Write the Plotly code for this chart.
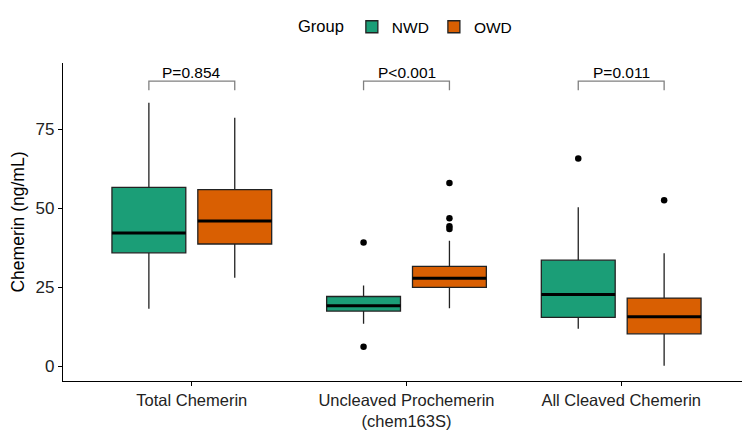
import plotly.graph_objects as go

# categorias e grupos
cats = ["Total Chemerin", "Uncleaved Prochemerin<br>(chem163S)", "All Cleaved Chemerin"]
grupos = ["NWD", "OWD"]
cores = {"NWD": "#1B9E77", "OWD": "#D95F02"}

# estatisticas (ng/mL)
q1 = {"NWD": [35.9, 17.5, 15.5], "OWD": [38.7, 25.0, 10.3]}
mediana = {"NWD": [42.2, 19.2, 22.7], "OWD": [46.0, 27.9, 15.7]}
q3 = {"NWD": [56.6, 22.1, 33.6], "OWD": [55.9, 31.6, 21.6]}
lim_inf = {"NWD": [18.2, 13.5, 11.9], "OWD": [28.0, 18.4, 0.2]}
lim_sup = {"NWD": [83.3, 25.6, 50.3], "OWD": [78.6, 39.7, 35.8]}
outliers = {
    "NWD": [[], [39.2, 6.2], [65.7]],
    "OWD": [[], [58.0, 46.8, 44.3, 43.4], [52.5]],
}
pvals = ["P=0.854", "P<0.001", "P=0.011"]
y_barra = 90.2
y_perna = 87.3

desloc = {"NWD": -0.2, "OWD": 0.2}
larg = 0.344

fig = go.Figure()
for g in grupos:
    xs = [i + desloc[g] for i in range(len(cats))]
    fig.add_trace(go.Box(
        x=xs, q1=q1[g], median=mediana[g], q3=q3[g],
        lowerfence=lim_inf[g], upperfence=lim_sup[g],
        width=larg, whiskerwidth=0, boxpoints=False,
        fillcolor=cores[g], line=dict(color="#222222", width=1.3),
        name=g, hoverinfo="skip",
    ))
    # mediana mais grossa (estilo ggplot)
    mx, my = [], []
    for x, m in zip(xs, mediana[g]):
        mx += [x - larg / 2, x + larg / 2, None]
        my += [m, m, None]
    fig.add_trace(go.Scatter(x=mx, y=my, mode="lines", line=dict(color="black", width=3),
                             showlegend=False, hoverinfo="skip"))
    ox, oy = [], []
    for x, vals in zip(xs, outliers[g]):
        ox += [x] * len(vals)
        oy += vals
    fig.add_trace(go.Scatter(x=ox, y=oy, mode="markers", marker=dict(color="black", size=6.5),
                             showlegend=False, hoverinfo="skip"))

# barras de significancia
for i, p in enumerate(pvals):
    x0, x1 = i + desloc["NWD"], i + desloc["OWD"]
    fig.add_trace(go.Scatter(x=[x0, x0, x1, x1], y=[y_perna, y_barra, y_barra, y_perna],
                             mode="lines", line=dict(color="#808080", width=1.3),
                             showlegend=False, hoverinfo="skip"))
    fig.add_annotation(x=i, y=y_barra, text=p, showarrow=False, yanchor="bottom", yshift=-2,
                       font=dict(size=15.5, color="black"))

fig.update_layout(
    width=750, height=430,
    margin=dict(l=55, r=8, t=55, b=49),
    plot_bgcolor="white", paper_bgcolor="white",
    font=dict(family="Liberation Sans, Arial, sans-serif", size=16, color="black"),
    legend=dict(orientation="h", x=0.5, xanchor="center", y=0.995, yanchor="top",
                yref="container", title=dict(text="Group", font=dict(size=16.5)),
                font=dict(size=15.5), itemwidth=30),
    showlegend=True,
)
fig.update_xaxes(range=[-0.6, 2.6], tickvals=[0, 1, 2], ticktext=cats,
                 showline=True, linecolor="black", linewidth=1.2,
                 ticks="outside", ticklen=4, tickcolor="black",
                 showgrid=False, zeroline=False, tickfont=dict(size=16.5, color="#222"))
fig.update_yaxes(range=[-4.6, 95.9], tickvals=[0, 25, 50, 75],
                 showline=True, linecolor="black", linewidth=1.2,
                 ticks="outside", ticklen=4, tickcolor="black",
                 showgrid=False, zeroline=False, tickfont=dict(size=17, color="#222"),
                 title=dict(text="Chemerin (ng/mL)", font=dict(size=17.5), standoff=6))

fig.write_html("out.html")
